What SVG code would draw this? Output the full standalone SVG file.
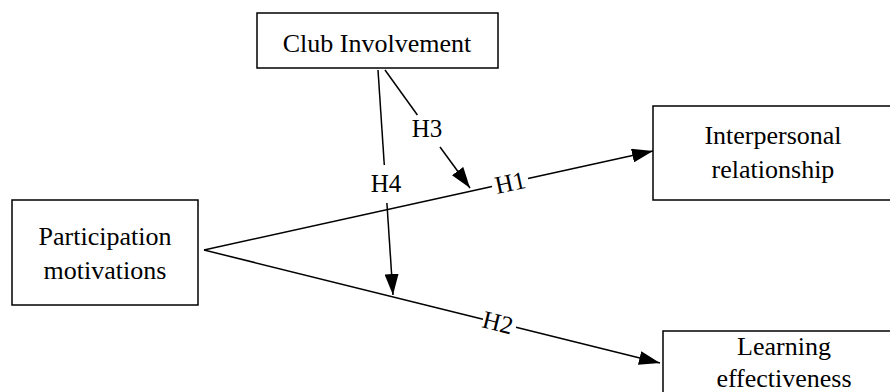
<svg xmlns="http://www.w3.org/2000/svg" width="890" height="392" viewBox="0 0 890 392">
<style>
.box{fill:#fff;stroke:#000;stroke-width:1.5}
.nt{font-size:26px;fill:#000;text-anchor:middle}
.lt{font-size:25px;fill:#000;text-anchor:middle}
.ln{stroke:#000;stroke-width:1.5;fill:none}
</style>
<defs>
<marker id="ah" markerUnits="userSpaceOnUse" markerWidth="22" markerHeight="14" refX="21" refY="7" orient="auto">
<path d="M0,0 L21,7 L0,14 Z" fill="#000"/>
</marker>
</defs>
<rect width="890" height="392" fill="#fff"/>
<g font-family="'Liberation Serif', 'Times New Roman', serif">
<g id="club">
<rect class="box" x="257" y="13" width="241" height="55"/>
<text class="nt" x="377" y="52">Club Involvement</text>
</g>
<g id="participation">
<rect class="box" x="12" y="200" width="186" height="105"/>
<text class="nt" x="105" y="245">Participation</text>
<text class="nt" x="105" y="279">motivations</text>
</g>
<g id="interpersonal">
<rect class="box" x="653" y="106" width="240" height="94"/>
<text class="nt" x="773" y="144">Interpersonal</text>
<text class="nt" x="773" y="178">relationship</text>
</g>
<g id="learning">
<rect class="box" x="663" y="331" width="242" height="70"/>
<text class="nt" x="784" y="355">Learning</text>
<text class="nt" x="784" y="387">effectiveness</text>
</g>
<g id="connectors">
<line class="ln" x1="204" y1="250" x2="492" y2="186.5"/>
<line class="ln" x1="528" y1="178.6" x2="653" y2="151" marker-end="url(#ah)"/>
<text class="lt" transform="translate(510,182) rotate(-12.4)" y="9">H1</text>
<line class="ln" x1="204" y1="250" x2="483" y2="319.2"/>
<line class="ln" x1="516" y1="327.3" x2="660" y2="363" marker-end="url(#ah)"/>
<text class="lt" transform="translate(498,322) rotate(13.9)" y="9">H2</text>
<line class="ln" x1="378" y1="70" x2="384.3" y2="165"/>
<line class="ln" x1="386.9" y1="203" x2="393" y2="295" marker-end="url(#ah)"/>
<text class="lt" x="386" y="192">H4</text>
<line class="ln" x1="385" y1="70" x2="417.4" y2="115"/>
<line class="ln" x1="440" y1="147" x2="470" y2="188" marker-end="url(#ah)"/>
<text class="lt" x="427" y="137">H3</text>
</g>
</g>
</svg>
